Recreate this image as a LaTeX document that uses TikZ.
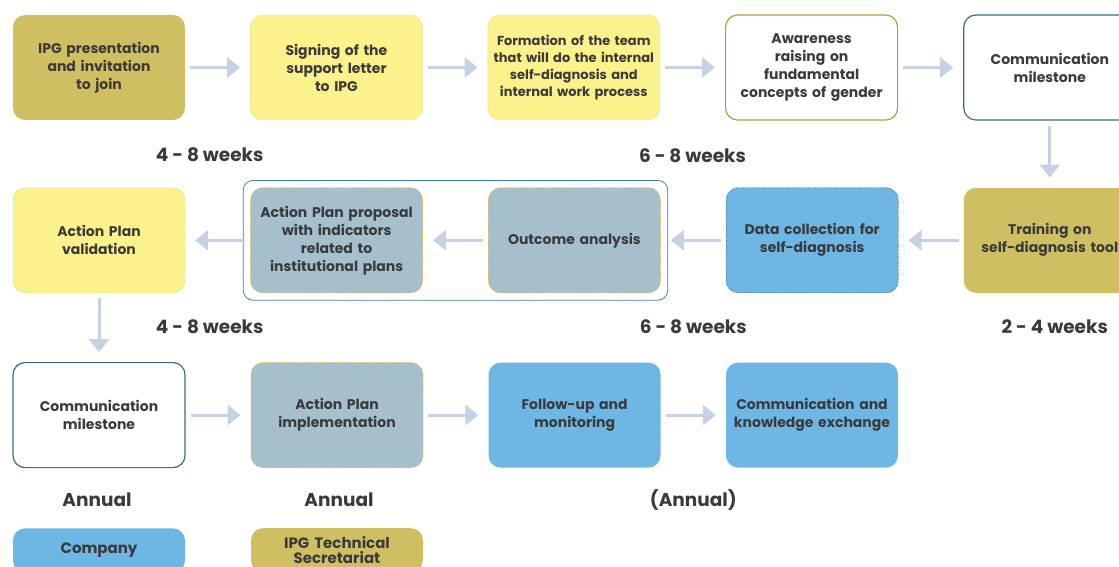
\documentclass[tikz,border=0pt]{standalone}
\usepackage{fontspec}
\setmainfont{Poppins}[BoldFont={Poppins Bold}]
\usetikzlibrary{arrows.meta,positioning,fit,calc}
\definecolor{ink}{RGB}{58,58,58}
\definecolor{ipgolive}{RGB}{207,191,98}
\definecolor{ipgyellow}{RGB}{251,242,140}
\definecolor{paleedge}{RGB}{232,220,150}
\definecolor{coblue}{RGB}{110,182,228}
\definecolor{greyblue}{RGB}{165,191,205}
\definecolor{navyedge}{RGB}{59,106,140}
\definecolor{goldedge}{RGB}{180,156,58}
\definecolor{dotedge}{RGB}{205,180,70}
\definecolor{flowcol}{RGB}{197,210,229}
\definecolor{grpedge}{RGB}{62,124,177}

\begin{document}
\begin{tikzpicture}[
  node distance=67pt and 65pt,
  box/.style={rounded corners=12pt, align=center, text=ink, font=\fontsize{14}{18}\selectfont\bfseries, minimum width=172pt, minimum height=105pt, text width=168pt, inner sep=2pt},
  ipg/.style={box, fill=ipgolive},
  sign/.style={box, fill=ipgyellow, draw=paleedge},
  firm/.style={box, fill=coblue},
  mile/.style={box, fill=white, draw=navyedge, line width=1.2pt},
  aware/.style={box, fill=white, draw=goldedge, line width=1.2pt},
  shared/.style={box, fill=greyblue, draw=dotedge, densely dotted, line width=0.8pt},
  datab/.style={box, fill=coblue, draw=navyedge, densely dotted, line width=0.8pt},
  group/.style={draw=grpedge, rounded corners=10pt, inner sep=7pt, line width=0.8pt},
  dur/.style={text=ink, font=\fontsize{18.5}{20}\selectfont\bfseries},
  legend/.style={box, minimum height=44pt, font=\fontsize{15}{15}\selectfont\bfseries},
  flow/.style={draw=flowcol, line width=3pt, -{Triangle[length=13pt,width=20pt]}, shorten <=5pt, shorten >=10pt}
]
\useasboundingbox (0,0) rectangle (1119pt,-567pt);
\clip (0,0) rectangle (1119pt,-567pt);
% first row
\node[ipg] (a1) at (99pt,-67.5pt) {IPG presentation\\ and invitation\\ to join};
\node[sign, right=of a1] (a2) {Signing of the\\ support letter\\ to IPG};
\node[sign, right=of a2, font=\fontsize{13}{17}\selectfont\bfseries] (a3) {Formation of the team\\ that will do the internal\\ self-diagnosis and\\ internal work process};
\node[aware, right=of a3] (a4) {Awareness\\ raising on\\ fundamental\\ concepts of gender};
\node[mile, right=of a4] (a5) {Communication\\ milestone};
% second row, right to left
\node[ipg, below=of a5] (b1) {Training on\\ self-diagnosis tool};
\node[datab, left=of b1] (b2) {Data collection for\\ self-diagnosis};
\node[shared, left=of b2] (b3) {Outcome analysis};
\node[shared, left=of b3] (b4) {Action Plan proposal\\ with indicators\\ related to\\ institutional plans};
\node[sign, left=of b4] (b5) {Action Plan\\ validation};
\node[group, fit=(b3)(b4)] (grp) {};
% third row
\node[mile, below=69pt of b5] (c1) {Communication\\ milestone};
\node[shared, right=of c1] (c2) {Action Plan\\ implementation};
\node[firm, right=of c2] (c3) {Follow-up and\\ monitoring};
\node[firm, right=of c3] (c4) {Communication and\\ knowledge exchange};
% legend
\node[legend, fill=coblue, below=60pt of c1] (l1) {Company};
\node[legend, fill=ipgolive, below=60pt of c2] (l2) {IPG Technical\\ Secretariat};
% durations
\node[dur] (w1) at ($(a1.south east)!0.5!(a2.south west)+(-8pt,-35pt)$) {4 - 8 weeks};
\node[dur] (w2) at ($(a3.south east)!0.5!(a4.south west)+(0,-35pt)$) {6 - 8 weeks};
\node[dur] (w3) at ($(b5.south east)!0.5!(b4.south west)+(-8pt,-34pt)$) {4 - 8 weeks};
\node[dur] (w4) at ($(b3.south east)!0.5!(b2.south west)+(0,-34pt)$) {6 - 8 weeks};
\node[dur] (w5) at ($(b1.south)+(5pt,-34pt)$) {2 - 4 weeks};
\node[dur] (w6) at ($(c1.south)+(-2pt,-32pt)$) {Annual};
\node[dur] (w7) at ($(c2.south)+(2pt,-32pt)$) {Annual};
\node[dur] (w8) at ($(c3.south east)!0.5!(c4.south west)+(0,-32pt)$) {(Annual)};
% connectors
\foreach \i/\j in {a1/a2,a2/a3,a3/a4,a4/a5,a5/b1,b1/b2,b2/b3,b3/b4,b4/b5,b5/c1,c1/c2,c2/c3,c3/c4}
  \draw[flow] (\i) -- (\j);
\end{tikzpicture}
\end{document}
